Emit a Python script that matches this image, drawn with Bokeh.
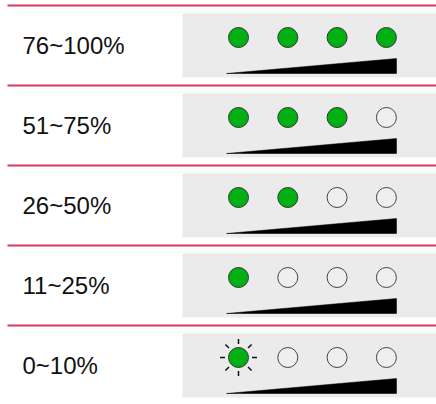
from bokeh.plotting import figure
from bokeh.models import Range1d
from bokeh.embed import file_html
from bokeh.resources import INLINE
from bokeh.core.properties import value
import math

# ---- data ----
categories = ["76~100%", "51~75%", "26~50%", "11~25%", "0~10%"]
levels = [4, 3, 2, 1, 1]
blinking = [False, False, False, False, True]
n_lights = 4

# ---- layout constants (screen pixels) ----
ROW_H = 80
TOP = 5
BOX_L, BOX_R = 182, 436
LIGHT_X0, LIGHT_DX, LIGHT_R = 238, 49.3, 10
RED = "#d63a5e"
GRAY = "#ebebeb"
GREEN = "#00b012"

p = figure(width=436, height=404, output_backend="svg", toolbar_location=None,
           x_range=Range1d(0, 436), y_range=Range1d(404, 0),
           min_border=0, min_border_left=0, min_border_right=0,
           min_border_top=0, min_border_bottom=0)
p.axis.visible = False
p.grid.visible = False
p.outline_line_color = None
p.background_fill_color = "white"
p.border_fill_color = "white"

row_tops = [TOP + ROW_H * i for i in range(len(categories))]

# gray boxes
p.quad(left=[BOX_L] * len(row_tops), right=[BOX_R] * len(row_tops),
       top=[t + 8 for t in row_tops], bottom=[t + 72 for t in row_tops],
       fill_color=GRAY, line_color=None)

# red separator lines
p.segment(x0=[7] * len(row_tops), x1=[436] * len(row_tops),
          y0=row_tops, y1=row_tops, line_color=RED, line_width=2)

# labels
p.text(x=[22] * len(categories), y=[t + 40 for t in row_tops], text=categories,
       text_font=value("Liberation Sans"), text_font_size="24px",
       text_baseline="middle", text_align="left", text_color="#111111")

# lights
cx, cy, fills, lines = [], [], [], []
for i, lv in enumerate(levels):
    for j in range(n_lights):
        cx.append(LIGHT_X0 + LIGHT_DX * j)
        cy.append(row_tops[i] + 32)
        on = j < lv
        fills.append(GREEN if on else "#efefef")
        lines.append("#333333" if on else "#444444")
p.circle(x=cx, y=cy, radius=LIGHT_R, fill_color=fills, line_color=lines, line_width=1)

# blinking rays
rx0, ry0, rx1, ry1 = [], [], [], []
for i, b in enumerate(blinking):
    if b:
        x0c, y0c = LIGHT_X0, row_tops[i] + 32
        for k in range(8):
            a = math.pi / 4 * k
            rx0.append(x0c + 13.5 * math.cos(a)); ry0.append(y0c + 13.5 * math.sin(a))
            rx1.append(x0c + 18.5 * math.cos(a)); ry1.append(y0c + 18.5 * math.sin(a))
p.segment(x0=rx0, y0=ry0, x1=rx1, y1=ry1, line_color="#111111", line_width=1.5)

# signal wedges
xs = [[226, 396, 396] for _ in row_tops]
ys = [[t + 68, t + 68, t + 53] for t in row_tops]
p.patches(xs=xs, ys=ys, fill_color="black", line_color="black", line_width=0.5)

open("out.html", "w").write(file_html(p, INLINE))
